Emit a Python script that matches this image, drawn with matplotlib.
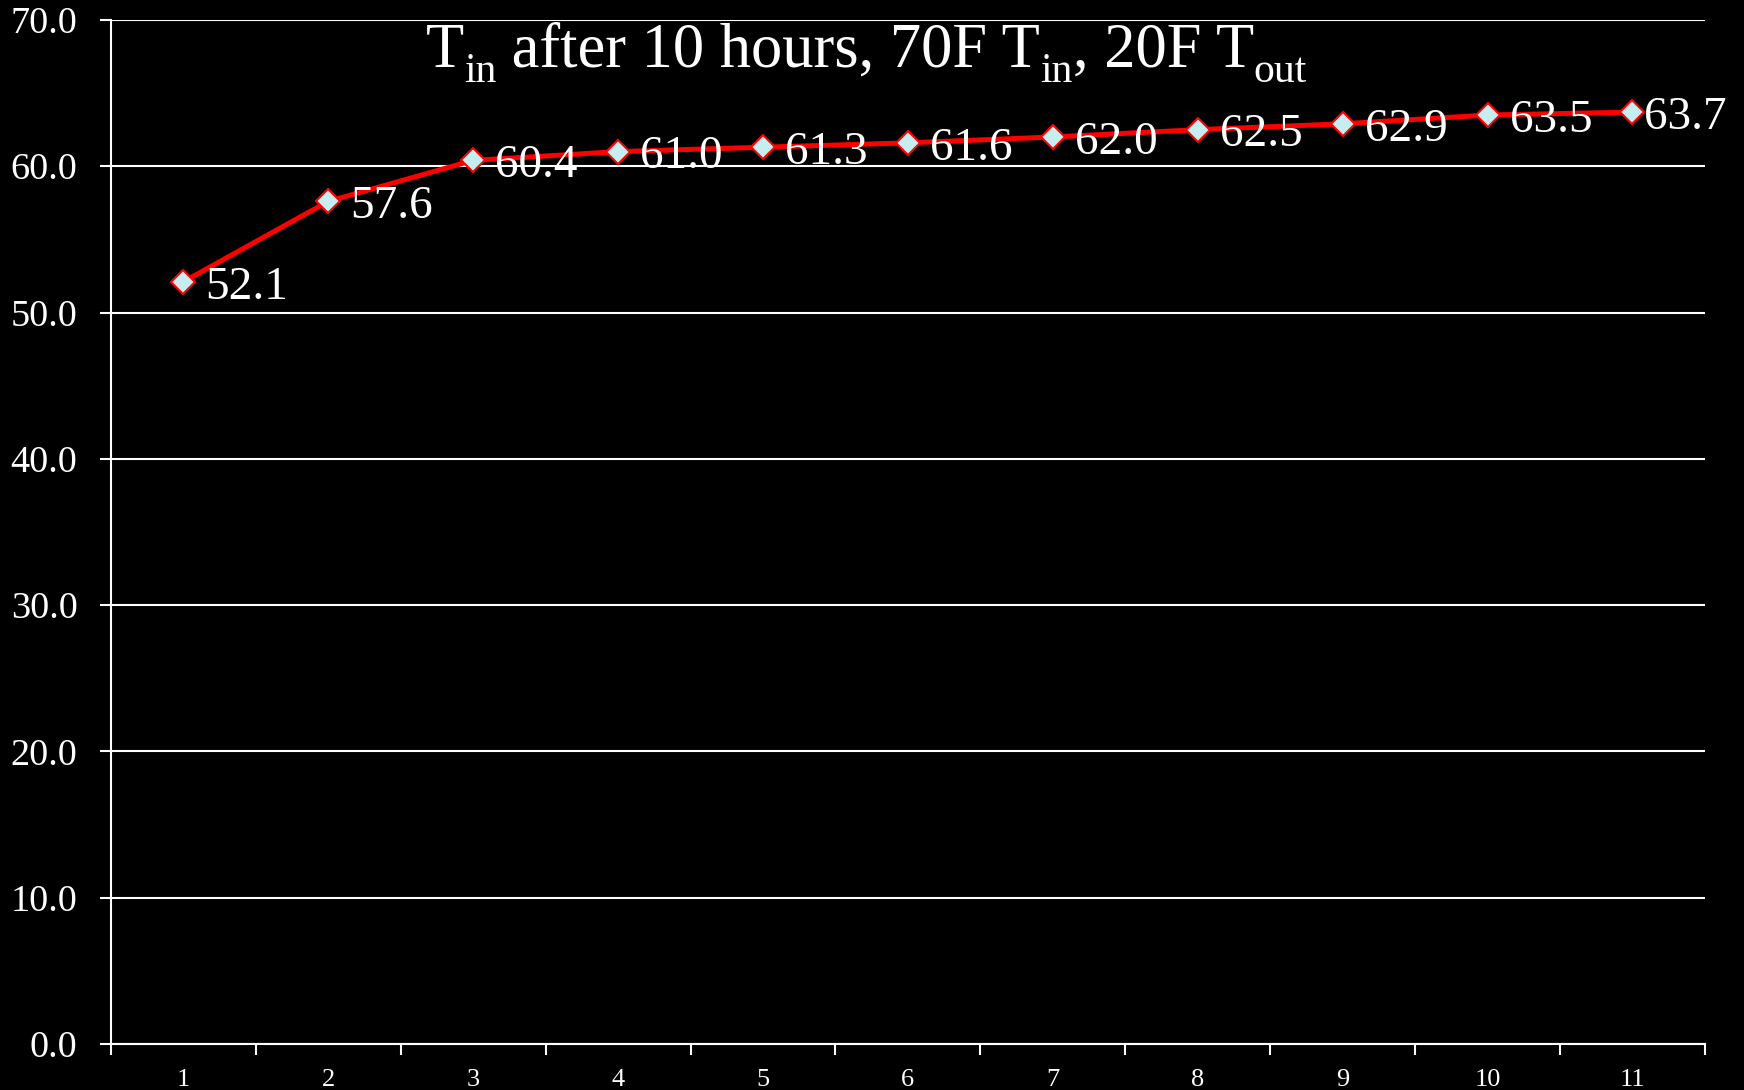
import matplotlib
matplotlib.use("Agg")
import matplotlib.pyplot as plt
import numpy as np

# Indoor temperature after 10 hours, by case
cases = [1, 2, 3, 4, 5, 6, 7, 8, 9, 10, 11]
t_in = [52.1, 57.6, 60.4, 61.0, 61.3, 61.6, 62.0, 62.5, 62.9, 63.5, 63.7]
y_ticks = [0, 10, 20, 30, 40, 50, 60, 70]

# title pieces: (text, is_subscript)
title_parts = [("T", False), ("in", True), (" after 10 hours, 70F T", False),
               ("in", True), (", 20F T", False), ("out", True)]

plt.rcParams["font.family"] = ["Liberation Serif", "DejaVu Serif"]

fig = plt.figure(figsize=(17.44, 10.90), dpi=100, facecolor="black")
ax = fig.add_axes([0.0636, 0.0422, 0.9140, 0.9395])
ax.set_facecolor("black")

ax.set_xlim(0.5, 11.5)
ax.set_ylim(0, 70)

# horizontal gridlines
ax.set_yticks(y_ticks)
ax.set_yticklabels([f"{v:.1f}" for v in y_ticks])
ax.yaxis.grid(True, color="white", linewidth=1.5)
ax.set_axisbelow(True)

# category axis: ticks between categories, labels centred on them
ax.set_xticks(np.arange(0.5, 12.0, 1.0))
ax.set_xticklabels([])
ax.set_xticks(cases, minor=True)
ax.set_xticklabels([str(c) for c in cases], minor=True)
ax.tick_params(axis="x", which="minor", length=0, pad=18, labelsize=19, colors="white")
ax.tick_params(axis="x", which="major", length=8, width=1.5, direction="out", color="white")
ax.tick_params(axis="y", length=8, width=1.5, direction="out", color="white",
               labelsize=27.5, labelcolor="white", pad=16)

for side in ("top", "right"):
    ax.spines[side].set_visible(False)
for side in ("left", "bottom"):
    ax.spines[side].set_color("white")
    ax.spines[side].set_linewidth(1.5)

ax.plot(cases, t_in, color="#ff0000", linewidth=3.6, marker="D", markersize=12.5,
        markerfacecolor="#c6eef0", markeredgecolor="#ff0000", markeredgewidth=1.5,
        zorder=3, clip_on=False)

for x, y in zip(cases, t_in):
    dx = 8 if x == cases[-1] else 16
    ax.annotate(f"{y:.1f}", (x, y), xytext=(dx, -4), textcoords="offset points",
                ha="left", va="center", color="white", fontsize=34, zorder=4)

# title with subscripts, laid out piece by piece
renderer = fig.canvas.get_renderer()
W, H = fig.get_size_inches() * fig.dpi
main_size, sub_size, sub_drop = 45, 30, 15.0
baseline_px = H - 67.0
pieces = []
for txt, sub in title_parts:
    t = fig.text(0, 0, txt, color="white", fontsize=sub_size if sub else main_size,
                 ha="left", va="baseline")
    pieces.append((t, sub))
widths = [t.get_window_extent(renderer).width for t, _ in pieces]
x_px = 0.4968 * W - sum(widths) / 2
for (t, sub), w in zip(pieces, widths):
    y_px = baseline_px - (sub_drop if sub else 0.0)
    t.set_position((x_px / W, y_px / H))
    x_px += w

fig.savefig("out.png", dpi=100, facecolor="black")
